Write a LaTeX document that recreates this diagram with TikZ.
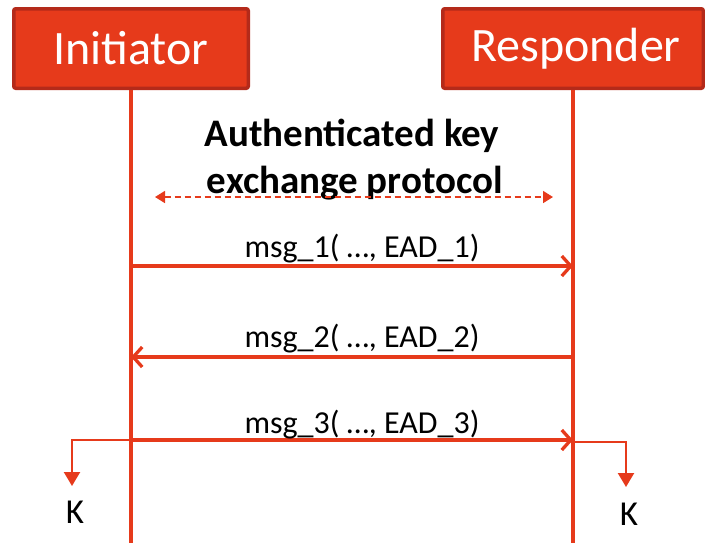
\documentclass[tikz,border=0pt]{standalone}
\usepackage{fontspec}
\setmainfont{Carlito}
\usetikzlibrary{arrows.meta}
\definecolor{ored}{HTML}{E63A1B}
\definecolor{oborder}{HTML}{B42A1A}
\begin{document}
\begin{tikzpicture}[x=1pt,y=-1pt,
  actor/.style={draw=oborder, fill=ored, line width=3.5pt, rounded corners=2pt,
    minimum height=79.5pt, text=white, inner sep=0pt,
    font=\fontsize{48}{54}\selectfont},
  life/.style={draw=ored, line width=3.3pt},
  msgarrow/.style={draw=ored, line width=3.3pt,
    -{Straight Barb[length=9pt,width=20pt,line width=3.3pt]}},
  keyarrow/.style={draw=ored, line width=2.3pt,
    -{Triangle[length=14pt,width=16pt]}},
  protoarrow/.style={draw=ored, line width=1.6pt, dash pattern=on 6pt off 4pt,
    {Triangle[length=10pt,width=12pt]}-{Triangle[length=10pt,width=12pt]}},
  msglabel/.style={anchor=base, inner sep=0pt, font=\fontsize{32}{38}\selectfont},
  klabel/.style={anchor=base, inner sep=0pt, font=\fontsize{35}{40}\selectfont},
  titletext/.style={anchor=base, inner sep=0pt, font=\fontsize{39}{47}\selectfont\bfseries},
]
\useasboundingbox (0,0) rectangle (705,542);

% actors
\node[actor, minimum width=234.5pt] (ini) at (131,48.5) {\raisebox{-2pt}{Initiator}};
\node[actor, minimum width=260.5pt] (res) at (573,48.5) {\raisebox{-2pt}{\hspace{6pt}Responder}};

% lifeline ends
\coordinate (iniEnd) at (131,545);
\coordinate (resEnd) at (573,545);
\draw[life] (ini.south) -- (iniEnd);
\draw[life] (res.south) -- (resEnd);

% protocol title
\node[titletext] (t1) at (352,146) {Authenticated key};
\node[titletext] (t2) at (355,193) {exchange protocol};
\coordinate (pl) at (155,197);
\coordinate (pr) at (553,197);
\draw[protoarrow] (pl) -- (pr);

% message points
\coordinate (i1) at (131,266);
\coordinate (r1) at (573,266);
\coordinate (i2) at (131,357);
\coordinate (r2) at (573,357);
\coordinate (i3) at (133,440);
\coordinate (r3) at (573,440);

\draw[msgarrow] (i1) -- (r1);
\node[msglabel] (m1) at (362,257) {msg\_1( …, EAD\_1)};
\draw[msgarrow] (r2) -- (i2);
\node[msglabel] (m2) at (362,347) {msg\_2( …, EAD\_2)};
\draw[msgarrow] (i3) -- (r3);
\node[msglabel] (m3) at (362,433) {msg\_3( …, EAD\_3)};

% key derivation
\coordinate (ki) at (131,440);
\coordinate (kr) at (573,442);
\node[klabel] (kl) at (75,523) {K};
\node[klabel] (kR) at (629,525) {K};
\draw[keyarrow] (ki) -| (72,486);
\draw[keyarrow] (kr) -| (626,487);
\end{tikzpicture}
\end{document}
